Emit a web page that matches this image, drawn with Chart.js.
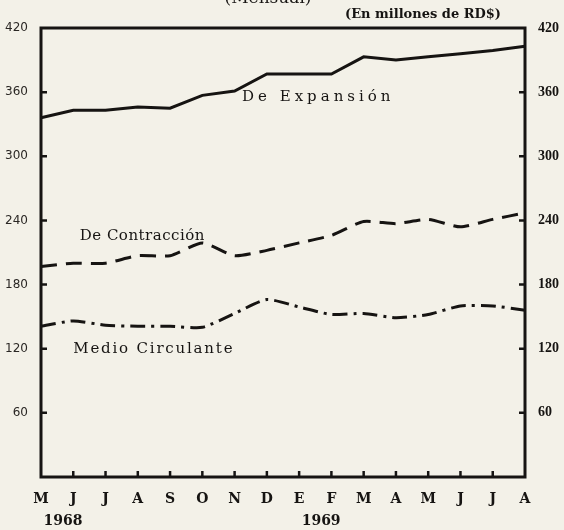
<!DOCTYPE html>
<html>
<head>
<meta charset="utf-8">
<script src="https://cdn.jsdelivr.net/npm/chart.js@4.4.1/dist/chart.umd.min.js"></script>
<style>
  body { margin: 0; background: #f3f1e8; }
  #wrap { width: 564px; height: 530px; position: relative; }
</style>
</head>
<body>
<div id="wrap"><canvas id="line-chart"></canvas></div>
<script>
// meses de mayo 1968 a agosto 1969
var months = ['M', 'J', 'J', 'A', 'S', 'O', 'N', 'D', 'E', 'F', 'M', 'A', 'M', 'J', 'J', 'A'];
var years = ['1968', '1969'];
var yearIndex = [0, 8];

var expansion = [336, 343, 343, 346, 345, 357, 361, 377, 377, 377, 393, 390, 393, 396, 399, 403];
var contraction = [197, 200, 200, 207, 207, 219, 207, 212, 219, 226, 239, 237, 241, 234, 241, 247];
var medio = [141, 146, 142, 141, 141, 140, 153, 166, 159, 152, 153, 149, 152, 160, 160, 156];

var yTicks = [60, 120, 180, 240, 300, 360, 420];

var ink = '#161412';

// textos dentro del grafico: [texto, indice x, valor y, espaciado]
var notes = [
  ['De Expansión', 6.23, 355, 4],
  ['De Contracción', 1.2, 225, 0.5],
  ['Medio Circulante', 1.0, 120, 1.8]
];

var paper = {
  id: 'paper',
  afterDraw: function (chart) {
    var ctx = chart.ctx;
    var a = chart.chartArea;
    var x = chart.scales.x, y = chart.scales.y;
    ctx.save();
    ctx.strokeStyle = ink;
    ctx.fillStyle = ink;

    // marco
    ctx.lineWidth = 3;
    ctx.strokeRect(a.left, a.top, a.right - a.left, a.bottom - a.top);

    // marcas interiores
    ctx.lineWidth = 2.5;
    yTicks.forEach(function (v) {
      if (v >= 420) return;
      var py = y.getPixelForValue(v);
      ctx.beginPath();
      ctx.moveTo(a.left, py); ctx.lineTo(a.left + 6, py);
      ctx.moveTo(a.right, py); ctx.lineTo(a.right - 6, py);
      ctx.stroke();
    });
    for (var i = 1; i < months.length - 1; i++) {
      var px = x.getPixelForValue(i);
      ctx.beginPath();
      ctx.moveTo(px, a.bottom); ctx.lineTo(px, a.bottom - 6);
      ctx.stroke();
    }

    // anotaciones
    ctx.font = '15px "DejaVu Serif"';
    ctx.textAlign = 'left';
    ctx.textBaseline = 'middle';
    var step = x.getPixelForValue(1) - x.getPixelForValue(0);
    notes.forEach(function (n) {
      ctx.letterSpacing = n[3] + 'px';
      ctx.fillText(n[0], x.getPixelForValue(0) + n[1] * step, y.getPixelForValue(n[2]));
    });

    // años
    ctx.letterSpacing = '0px';
    ctx.font = 'bold 14px "DejaVu Serif"';
    ctx.textAlign = 'center';
    years.forEach(function (t, k) {
      ctx.fillText(t, x.getPixelForValue(yearIndex[k]) + 22, 521);
    });

    // titulos
    ctx.font = '17px "DejaVu Serif"';
    ctx.fillText('(Mensual)', 268, -1);
    ctx.font = 'bold 13px "DejaVu Serif"';
    ctx.textAlign = 'right';
    ctx.fillText('(En millones de RD$)', 501, 15);
    ctx.restore();
  }
};

new Chart(document.getElementById('line-chart'), {
  type: 'line',
  data: {
    labels: months,
    datasets: [
      {
        label: 'De Expansión',
        data: expansion,
        borderColor: ink,
        borderWidth: 3,
        pointRadius: 0,
        tension: 0,
        fill: false
      },
      {
        label: 'De Contracción',
        data: contraction,
        borderColor: ink,
        borderWidth: 3,
        borderDash: [16, 9],
        pointRadius: 0,
        tension: 0.2,
        fill: false
      },
      {
        label: 'Medio Circulante',
        data: medio,
        borderColor: ink,
        borderWidth: 3,
        borderDash: [15, 6, 3, 6],
        pointRadius: 0,
        tension: 0.2,
        fill: false
      }
    ]
  },
  plugins: [paper],
  options: {
    responsive: true,
    maintainAspectRatio: false,
    animation: false,
    layout: { padding: { top: 28, left: 0, right: 0, bottom: 0 } },
    plugins: {
      legend: { display: false },
      tooltip: { enabled: false }
    },
    scales: {
      x: {
        offset: false,
        grid: { display: false },
        border: { display: false },
        ticks: {
          color: ink,
          padding: 6,
          maxRotation: 0,
          autoSkip: false,
          font: { family: 'DejaVu Serif', size: 14, weight: 'bold' }
        },
        afterFit: function (s) { s.height = 53; }
      },
      y: {
        position: 'left',
        min: 0,
        max: 420,
        grid: { display: false },
        border: { display: false },
        afterBuildTicks: function (s) {
          s.ticks = yTicks.map(function (v) { return { value: v }; });
        },
        ticks: {
          color: '#2a2724',
          padding: 5,
          font: { family: 'DejaVu Sans', size: 12 }
        },
        afterFit: function (s) { s.width = 41; }
      },
      y2: {
        position: 'right',
        min: 0,
        max: 420,
        grid: { display: false },
        border: { display: false },
        afterBuildTicks: function (s) {
          s.ticks = yTicks.map(function (v) { return { value: v }; });
        },
        ticks: {
          color: ink,
          padding: 5,
          font: { family: 'Liberation Serif', size: 14, weight: 'bold' }
        },
        afterFit: function (s) { s.width = 39; }
      }
    }
  }
});
</script>
</body>
</html>
